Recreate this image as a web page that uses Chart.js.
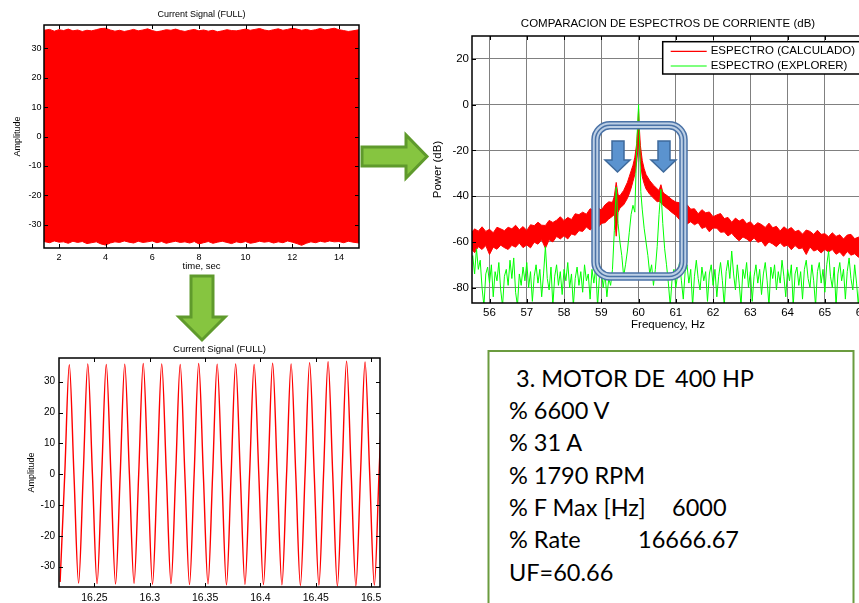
<!DOCTYPE html>
<html>
<head>
<meta charset="utf-8">
<script src="https://cdn.jsdelivr.net/npm/chart.js@4.4.1/dist/chart.umd.min.js"></script>
<style>
  html, body { margin: 0; padding: 0; background: #fff; }
  body { width: 859px; height: 603px; overflow: hidden; position: relative; }
  canvas { position: absolute; }
  #sig { left: 0; top: 0; }
  #zoom { left: 0; top: 340px; }
  #spec { left: 430px; top: 10px; }
  #overlay { position: absolute; left: 0; top: 0; pointer-events: none; }
  #overlay text { font-family: Lato, "Open Sans", sans-serif; font-size: 23.5px; fill: #000; }
</style>
</head>
<body>
<canvas id="sig" width="370" height="280"></canvas>
<canvas id="zoom" width="390" height="263"></canvas>
<canvas id="spec" width="480" height="330"></canvas>

<svg id="overlay" width="859" height="603">
  <!-- green arrows -->
  <polygon points="362,147 406,147 406,135 427,156.5 406,178 406,166 362,166"
           fill="#86c540" stroke="#5f9a2c" stroke-width="3" stroke-linejoin="miter"/>
  <polygon points="191,276 213,276 213,317 225,317 202,340 179,317 191,317"
           fill="#86c540" stroke="#5f9a2c" stroke-width="3" stroke-linejoin="miter"/>

  <!-- triple rounded frame around the side bands -->
  <rect x="595.5" y="125.2" width="88" height="151.3" rx="14.5" fill="none" stroke="#bccfe5" stroke-width="7"/>
  <rect x="592" y="121.7" width="95" height="158.3" rx="18" fill="none" stroke="#4a72a6" stroke-width="1.5"/>
  <rect x="595.5" y="125.2" width="88" height="151.3" rx="14.5" fill="none" stroke="#4a72a6" stroke-width="1.5"/>
  <rect x="599" y="128.7" width="81" height="144.3" rx="11" fill="none" stroke="#4a72a6" stroke-width="1.5"/>

  <!-- blue arrows -->
  <polygon points="612,141 624,141 624,160 630,160 617.5,172 605,160 612,160"
           fill="#5b93cf" stroke="#3e6a9c" stroke-width="1.5"/>
  <polygon points="658,141 670,141 670,160 676,160 663.5,172 651,160 658,160"
           fill="#5b93cf" stroke="#3e6a9c" stroke-width="1.5"/>

  <!-- motor data box -->
  <rect x="488.5" y="351" width="365" height="270" fill="#fff" stroke="#6b9b3f" stroke-width="2"/>
  <text x="516" y="386.7">3. MOTOR DE</text>
  <text x="675" y="386.7">400 HP</text>
  <text x="509" y="419">% 6600 V</text>
  <text x="509" y="451.3">% 31 A</text>
  <text x="509" y="483.6">% 1790 RPM</text>
  <text x="509" y="515.9">% F Max [Hz]</text>
  <text x="672" y="515.9">6000</text>
  <text x="509" y="548.2">% Rate</text>
  <text x="638" y="548.2">16666.67</text>
  <text x="509" y="580.5">UF=60.66</text>
</svg>

<script>
// full record, envelope of the dense signal
const sigTime = [
  1.36, 1.6, 1.8, 2.0, 2.2, 2.4, 2.6, 2.8, 3.0, 3.2,
  3.4, 3.6, 3.8, 4.0, 4.2, 4.4, 4.6, 4.8, 5.0, 5.2,
  5.4, 5.6, 5.8, 6.0, 6.2, 6.4, 6.6, 6.8, 7.0, 7.2,
  7.4, 7.6, 7.8, 8.0, 8.2, 8.4, 8.6, 8.8, 9.0, 9.2,
  9.4, 9.6, 9.8, 10.0, 10.2, 10.4, 10.6, 10.8, 11.0, 11.2,
  11.4, 11.6, 11.8, 12.0, 12.2, 12.4, 12.6, 12.8, 13.0, 13.2,
  13.4, 13.6, 13.8, 14.0, 14.2, 14.4, 14.6, 14.86
];
const sigUpper = [
  36.2, 36.5, 35.9, 36.4, 36.1, 36.6, 36.0, 36.3, 35.8, 36.2,
  36.0, 36.4, 36.8, 36.9, 36.3, 35.9, 36.2, 35.8, 36.1, 36.5,
  36.0, 36.3, 36.7, 36.1, 35.7, 36.0, 36.4, 36.2, 36.6, 36.1,
  35.8, 36.2, 36.5, 36.0, 36.3, 35.9, 36.2, 35.7, 36.0, 36.4,
  36.1, 36.0, 36.3, 36.6, 36.2, 36.5, 36.8, 36.3, 36.0, 36.4,
  36.7, 36.2, 36.5, 36.9, 36.6, 36.2, 36.5, 36.1, 36.4, 36.8,
  36.3, 36.6, 36.9, 36.4, 36.1, 35.8, 36.0, 36.4
];
const sigLower = [
  -35.8, -36.2, -35.6, -36.0, -35.9, -36.4, -35.7, -36.1, -35.8, -36.5,
  -36.2, -35.9, -36.6, -37.0, -36.3, -35.9, -36.1, -35.6, -36.0, -36.3,
  -35.7, -36.1, -35.9, -35.6, -36.2, -35.8, -36.4, -36.0, -35.7, -36.1,
  -35.9, -36.3, -35.8, -36.6, -36.2, -35.8, -36.4, -36.0, -35.7, -36.1,
  -36.5, -35.9, -36.2, -35.8, -36.4, -36.1, -35.7, -36.0, -35.8, -36.3,
  -35.9, -36.2, -35.6, -36.0, -36.5, -37.1, -36.4, -35.9, -36.2, -35.7,
  -36.0, -35.6, -35.9, -35.8, -36.2, -35.7, -36.0, -36.3
];

// zoomed window: troughs, zero crossings and peaks
const zoomTime = [
  16.2190, 16.2232, 16.2273, 16.2315, 16.2357, 16.2399, 16.2440, 16.2482, 16.2524, 16.2566,
  16.2607, 16.2649, 16.2691, 16.2733, 16.2774, 16.2816, 16.2858, 16.2900, 16.2941, 16.2983,
  16.3025, 16.3067, 16.3108, 16.3150, 16.3192, 16.3234, 16.3275, 16.3317, 16.3359, 16.3401,
  16.3442, 16.3484, 16.3526, 16.3568, 16.3609, 16.3651, 16.3693, 16.3735, 16.3776, 16.3818,
  16.3860, 16.3902, 16.3943, 16.3985, 16.4027, 16.4069, 16.4110, 16.4152, 16.4194, 16.4236,
  16.4277, 16.4319, 16.4361, 16.4403, 16.4444, 16.4486, 16.4528, 16.4570, 16.4611, 16.4653,
  16.4695, 16.4737, 16.4778, 16.4820, 16.4862, 16.4904, 16.4945, 16.4987, 16.5029, 16.5071,
  16.5112
];
const zoomAmp = [
  -35.0, 0, 35.5, 0, -35.3, 0, 35.8, 0, -35.5, 0,
  35.6, 0, -35.6, 0, 35.7, 0, -35.4, 0, 35.9, 0,
  -35.7, 0, 35.8, 0, -35.5, 0, 35.6, 0, -35.8, 0,
  35.9, 0, -35.6, 0, 35.7, 0, -35.9, 0, 35.8, 0,
  -35.7, 0, 35.6, 0, -35.8, 0, 36.0, 0, -35.9, 0,
  35.8, 0, -36.1, 0, 36.2, 0, -36.0, 0, 36.5, 0,
  -36.3, 0, 36.7, 0, -36.2, 0, 36.4, 0, -36.0, 0,
  36.3
];

// calculated spectrum, drawn as a band (top / bottom of the noisy trace)
const redFreq = [
  55.5, 55.6, 55.7, 55.8, 55.9, 56.0, 56.1, 56.2, 56.3, 56.4,
  56.5, 56.6, 56.7, 56.8, 56.9, 57.0, 57.1, 57.2, 57.3, 57.4,
  57.5, 57.6, 57.7, 57.8, 57.9, 58.0, 58.1, 58.2, 58.3, 58.4,
  58.5, 58.6, 58.7, 58.8, 58.9, 59.0, 59.1, 59.2, 59.3, 59.35,
  59.4, 59.45, 59.5, 59.6, 59.7, 59.75, 59.8, 59.85, 59.9, 59.95,
  59.98, 60.0, 60.02, 60.05, 60.1, 60.15, 60.2, 60.3, 60.4, 60.5,
  60.55, 60.6, 60.65, 60.7, 60.8, 60.9, 61.0, 61.1, 61.2, 61.3,
  61.4, 61.5, 61.6, 61.7, 61.8, 61.9, 62.0, 62.1, 62.2, 62.3,
  62.4, 62.5, 62.6, 62.7, 62.8, 62.9, 63.0, 63.1, 63.2, 63.3,
  63.4, 63.5, 63.6, 63.7, 63.8, 63.9, 64.0, 64.1, 64.2, 64.3,
  64.4, 64.5, 64.6, 64.7, 64.8, 64.9, 65.0, 65.1, 65.2, 65.3,
  65.4, 65.5, 65.6, 65.7, 65.8, 65.9, 66.0, 66.1
];
const redTop = [
  -56.4, -54.3, -55.3, -53.4, -55.4, -54.5, -56.0, -53.6, -54.3, -55.1,
  -53.6, -54.3, -52.7, -54.7, -53.3, -55.0, -52.5, -52.9, -51.4, -52.7,
  -52.8, -50.6, -51.5, -50.5, -49.0, -50.7, -49.3, -50.2, -47.7, -48.1,
  -47.0, -47.9, -45.5, -46.3, -44.9, -46.1, -43.8, -42.5, -42.7, -40,
  -34, -39.5, -39.8, -37.5, -34, -31.5, -29, -26.5, -23, -17,
  -10, -2, -10, -18, -24.5, -28, -30.5, -33.2, -35.2, -36.8,
  -37.5, -35, -38.2, -39, -40.2, -41.6, -42.6, -42.9, -45.0, -43.7,
  -45.7, -45.5, -47.7, -45.9, -47.3, -46.9, -49.0, -48.2, -47.6, -49.8,
  -49.3, -51.4, -49.6, -50.9, -50.0, -52.0, -51.2, -53.0, -51.6, -52.4,
  -53.7, -51.8, -53.8, -53.2, -55.2, -53.4, -54.7, -53.7, -55.5, -54.9,
  -56.6, -54.8, -55.4, -56.7, -54.9, -56.7, -56.4, -57.7, -56.0, -57.6,
  -56.9, -58.7, -57.0, -56.7, -58.6, -57.9, -59.1, -57.9
];
const redBottom = [
  -62.7, -64.7, -62.1, -63.3, -61.6, -65.5, -62.3, -63.2, -61.4, -62.5,
  -63.3, -61.5, -62.3, -60.5, -62.5, -61.3, -62.6, -60.1, -61.0, -59.1,
  -62.8, -59.1, -60.0, -57.6, -58.7, -57.3, -58.7, -56.5, -57.1, -55.1,
  -55.4, -53.5, -54.8, -53.2, -54.1, -51.9, -51.6, -50.0, -48.8, -48,
  -57.5, -47, -45.2, -43.8, -41, -39, -36.5, -33.5, -30.5, -25,
  -20, -15, -20, -25, -31.5, -34.5, -36.8, -39.2, -40.8, -42.5,
  -42.2, -43, -43.8, -44.5, -45.8, -47.2, -48.4, -50.3, -49.4, -52.2,
  -51.2, -52.5, -51.6, -54.1, -53.4, -55.6, -53.9, -54.0, -55.8, -55.6,
  -57.4, -56.2, -58.1, -59.5, -57.8, -58.7, -59.9, -58.2, -60.2, -59.6,
  -61.9, -60.0, -60.9, -62.1, -60.4, -62.0, -61.4, -63.4, -61.6, -63.0,
  -62.6, -65.5, -62.2, -64.0, -63.3, -64.8, -63.3, -64.4, -63.3, -65.4,
  -64.4, -66.3, -64.2, -65.8, -65.2, -66.7, -65.1, -66.3
];

// explorer spectrum
const greenFreq = [
  55.50, 55.55, 55.60, 55.65, 55.70, 55.75, 55.80, 55.85, 55.90, 55.95,
  56.00, 56.05, 56.10, 56.15, 56.20, 56.25, 56.30, 56.35, 56.40, 56.45,
  56.50, 56.55, 56.60, 56.65, 56.70, 56.75, 56.80, 56.85, 56.90, 56.95,
  57.00, 57.05, 57.10, 57.15, 57.20, 57.25, 57.30, 57.35, 57.40, 57.45,
  57.50, 57.55, 57.60, 57.65, 57.70, 57.75, 57.80, 57.85, 57.90, 57.95,
  58.00, 58.05, 58.10, 58.15, 58.20, 58.25, 58.30, 58.35, 58.40, 58.45,
  58.50, 58.55, 58.60, 58.65, 58.70, 58.75, 58.80, 58.85, 58.90, 58.95,
  59.00, 59.05, 59.10, 59.15, 59.20, 59.25, 59.30, 59.35, 59.40, 59.45,
  59.50, 59.55, 59.60, 59.65, 59.70, 59.75, 59.80, 59.85, 59.90, 59.93,
  59.96, 60.00, 60.03, 60.06, 60.10, 60.15, 60.20, 60.25, 60.30, 60.35,
  60.40, 60.45, 60.50, 60.55, 60.60, 60.65, 60.70, 60.75, 60.80, 60.85,
  60.90, 60.95, 61.00, 61.05, 61.10, 61.15, 61.20, 61.25, 61.30, 61.35,
  61.40, 61.45, 61.50, 61.55, 61.60, 61.65, 61.70, 61.75, 61.80, 61.85,
  61.90, 61.95, 62.00, 62.05, 62.10, 62.15, 62.20, 62.25, 62.30, 62.35,
  62.40, 62.45, 62.50, 62.55, 62.60, 62.65, 62.70, 62.75, 62.80, 62.85,
  62.90, 62.95, 63.00, 63.05, 63.10, 63.15, 63.20, 63.25, 63.30, 63.35,
  63.40, 63.45, 63.50, 63.55, 63.60, 63.65, 63.70, 63.75, 63.80, 63.85,
  63.90, 63.95, 64.00, 64.05, 64.10, 64.15, 64.20, 64.25, 64.30, 64.35,
  64.40, 64.45, 64.50, 64.55, 64.60, 64.65, 64.70, 64.75, 64.80, 64.85,
  64.90, 64.95, 65.00, 65.05, 65.10, 65.15, 65.20, 65.25, 65.30, 65.35,
  65.40, 65.45, 65.50, 65.55, 65.60, 65.65, 65.70, 65.75, 65.80, 65.85,
  65.90, 65.95, 66.00, 66.05, 66.10
];
const greenDb = [
  -70, -66, -74, -63, -72, -68, -80, -88, -74, -71,
  -78, -70, -84, -73, -77, -69, -81, -88, -75, -72,
  -79, -68, -76, -67, -82, -88, -74, -79, -71, -77,
  -69, -80, -73, -86, -75, -70, -78, -72, -84, -74,
  -62, -76, -81, -71, -88, -75, -70, -79, -73, -83,
  -72, -77, -69, -80, -74, -88, -76, -71, -79, -73,
  -82, -70, -77, -74, -85, -72, -78, -71, -88, -75,
  -72, -80, -74, -84, -76, -79, -72, -55, -36, -52,
  -60, -66, -75, -70, -64, -56, -48, -44, -47, -30,
  -14, 0, -18, -38, -46, -54, -60, -66, -74, -70,
  -79, -72, -62, -48, -37, -52, -63, -70, -78, -88,
  -76, -72, -80, -74, -69, -77, -85, -73, -70, -78,
  -72, -88, -75, -68, -76, -81, -71, -77, -73, -86,
  -74, -70, -79, -72, -84, -75, -69, -77, -88, -73,
  -68, -76, -64, -74, -81, -70, -78, -88, -72, -76,
  -69, -80, -73, -86, -75, -70, -78, -72, -83, -74,
  -69, -77, -88, -71, -76, -70, -81, -73, -78, -68,
  -75, -84, -72, -77, -70, -88, -74, -71, -79, -73,
  -85, -72, -68, -76, -80, -70, -77, -88, -73, -69,
  -78, -72, -82, -70, -64, -75, -80, -71, -88, -74,
  -69, -77, -72, -85, -73, -67, -76, -81, -70, -78,
  -88, -74, -70, -77, -72
];

const FONT = '"Liberation Sans", Arial, Helvetica, sans-serif';
Chart.defaults.font.family = FONT;
Chart.defaults.color = '#000';
Chart.defaults.animation = false;

const toPoints = (xs, ys) => xs.map((x, i) => ({ x, y: ys[i] }));
const fmt = (v) => String(+v.toFixed(4));

// matlab-like box: frame, inward ticks on all four sides, title on top
const axesFrame = {
  id: 'axesFrame',
  afterDraw(chart, args, opts) {
    const { ctx, chartArea: a } = chart;
    const xs = chart.scales.x;
    const ys = chart.scales.y;
    const len = opts.tickLen;
    ctx.save();
    ctx.strokeStyle = '#000';
    ctx.lineWidth = 1;
    ctx.beginPath();
    xs.ticks.forEach((t) => {
      const px = Math.round(xs.getPixelForValue(t.value)) + 0.5;
      ctx.moveTo(px, a.bottom); ctx.lineTo(px, a.bottom - len);
      ctx.moveTo(px, a.top); ctx.lineTo(px, a.top + len);
    });
    ys.ticks.forEach((t) => {
      const py = Math.round(ys.getPixelForValue(t.value)) + 0.5;
      ctx.moveTo(a.left, py); ctx.lineTo(a.left + len, py);
      ctx.moveTo(a.right, py); ctx.lineTo(a.right - len, py);
    });
    ctx.stroke();
    ctx.lineWidth = opts.frameWidth;
    ctx.strokeRect(a.left, a.top, a.right - a.left, a.bottom - a.top);
    ctx.fillStyle = '#000';
    ctx.font = opts.titleSize + 'px ' + FONT;
    ctx.textAlign = 'center';
    ctx.textBaseline = 'middle';
    ctx.fillText(opts.title, (a.left + a.right) / 2, opts.titleY);
    ctx.restore();
  }
};

// legend box in the upper right corner of the spectrum
const specLegend = {
  id: 'specLegend',
  afterDraw(chart, args, opts) {
    const ctx = chart.ctx;
    const items = chart.data.datasets.filter((d) => d.label);
    ctx.save();
    ctx.fillStyle = '#fff';
    ctx.fillRect(opts.x, opts.y, opts.w, opts.h);
    ctx.strokeStyle = '#000';
    ctx.lineWidth = 1.5;
    ctx.strokeRect(opts.x, opts.y, opts.w, opts.h);
    ctx.font = opts.size + 'px ' + FONT;
    ctx.textBaseline = 'middle';
    items.forEach((d, i) => {
      const cy = opts.y + opts.row0 + i * opts.rowGap;
      ctx.strokeStyle = d.borderColor;
      ctx.lineWidth = 1.2;
      ctx.beginPath();
      ctx.moveTo(opts.x + 8, cy);
      ctx.lineTo(opts.x + 44, cy);
      ctx.stroke();
      ctx.fillStyle = '#000';
      ctx.fillText(d.label, opts.x + 48, cy);
    });
    ctx.restore();
  }
};

const noGrid = { display: false, drawTicks: false };

// 1) full record
new Chart(document.getElementById('sig'), {
  type: 'line',
  data: {
    datasets: [
      { data: toPoints(sigTime, sigUpper), borderColor: '#ff0000', backgroundColor: '#ff0000',
        borderWidth: 1, pointRadius: 0, fill: 1 },
      { data: toPoints(sigTime, sigLower), borderColor: '#ff0000',
        borderWidth: 1, pointRadius: 0, fill: false }
    ]
  },
  options: {
    responsive: false,
    layout: { padding: { top: 25, right: 11, left: 0, bottom: 0 } },
    plugins: {
      legend: { display: false },
      tooltip: { enabled: false },
      axesFrame: { title: 'Current Signal (FULL)', titleY: 15, titleSize: 9, tickLen: 4, frameWidth: 1.5 }
    },
    scales: {
      x: {
        type: 'linear', min: 1.36, max: 14.86,
        afterFit: (s) => { s.height = 32; },
        grid: noGrid, border: { display: false },
        ticks: { stepSize: 2, includeBounds: false, padding: 4.6, font: { size: 9 }, maxRotation: 0, callback: fmt },
        title: { display: true, text: 'time, sec', font: { size: 9.5 }, padding: { top: 0, bottom: 7.5 } }
      },
      y: {
        min: -38, max: 38,
        afterFit: (s) => { s.width = 44; },
        grid: noGrid, border: { display: false },
        ticks: { stepSize: 10, includeBounds: false, padding: 2.5, font: { size: 9 }, callback: fmt },
        title: { display: true, text: 'Amplitude', font: { size: 9 }, padding: { top: 12.5, bottom: 0 } }
      }
    }
  },
  plugins: [axesFrame]
});

// 2) zoom on a few cycles
new Chart(document.getElementById('zoom'), {
  type: 'line',
  data: {
    datasets: [
      { data: toPoints(zoomTime, zoomAmp), borderColor: '#ff0000', borderWidth: 1.4,
        pointRadius: 0, fill: false, cubicInterpolationMode: 'monotone' }
    ]
  },
  options: {
    responsive: false,
    layout: { padding: { top: 18, right: 10, left: 0, bottom: 0 } },
    plugins: {
      legend: { display: false },
      tooltip: { enabled: false },
      axesFrame: { title: 'Current Signal (FULL)', titleY: 9, titleSize: 9.5, tickLen: 4, frameWidth: 1.5 }
    },
    scales: {
      x: {
        type: 'linear', min: 16.218, max: 16.508,
        afterFit: (s) => { s.height = 16; },
        grid: noGrid, border: { display: false },
        ticks: { stepSize: 0.05, includeBounds: false, padding: 5, font: { size: 10.5 }, maxRotation: 0, autoSkip: false, callback: fmt }
      },
      y: {
        min: -36.6, max: 37.7,
        afterFit: (s) => { s.width = 59; },
        grid: noGrid, border: { display: false },
        ticks: { stepSize: 10, includeBounds: false, padding: 4, font: { size: 10 }, callback: fmt },
        title: { display: true, text: 'Amplitude', font: { size: 9 }, padding: { top: 26.5, bottom: 0 } }
      }
    }
  },
  plugins: [axesFrame]
});

// 3) spectrum comparison
new Chart(document.getElementById('spec'), {
  type: 'line',
  data: {
    datasets: [
      { label: 'ESPECTRO (CALCULADO)', data: toPoints(redFreq, redTop), borderColor: '#ff0000',
        backgroundColor: '#ff0000', borderWidth: 1, pointRadius: 0, fill: 1, order: 3 },
      { data: toPoints(redFreq, redBottom), borderColor: '#ff0000',
        borderWidth: 1, pointRadius: 0, fill: false, order: 3 },
      { label: 'ESPECTRO (EXPLORER)', data: toPoints(greenFreq, greenDb), borderColor: '#00ff00',
        borderWidth: 1, pointRadius: 0, fill: false, order: 1 }
    ]
  },
  options: {
    responsive: false,
    layout: { padding: { top: 26, right: 46, left: 0, bottom: 0 } },
    plugins: {
      legend: { display: false },
      tooltip: { enabled: false },
      axesFrame: { title: 'COMPARACION DE ESPECTROS DE CORRIENTE (dB)', titleY: 14, titleSize: 11.5, tickLen: 4, frameWidth: 1.5 },
      specLegend: { x: 232.7, y: 31.7, w: 199, h: 32.3, row0: 9.6, rowGap: 14.7, size: 11.5 }
    },
    scales: {
      x: {
        type: 'linear', min: 55.53, max: 66.05,
        afterFit: (s) => { s.height = 37; },
        grid: { color: '#808080', lineWidth: 1, drawTicks: false },
        border: { display: false },
        ticks: { stepSize: 1, includeBounds: false, padding: 2.8, font: { size: 11.5 }, maxRotation: 0, autoSkip: false, callback: fmt },
        title: { display: true, text: 'Frequency, Hz', font: { size: 11.5 }, padding: { top: 0, bottom: 8.4 } }
      },
      y: {
        min: -86.7, max: 30,
        afterFit: (s) => { s.width = 42; },
        grid: { color: '#808080', lineWidth: 1, drawTicks: false },
        border: { display: false },
        ticks: { stepSize: 20, includeBounds: false, padding: 3, font: { size: 11.5 }, callback: fmt },
        title: { display: true, text: 'Power (dB)', font: { size: 11.5 }, padding: { top: 1.4, bottom: 0 } }
      }
    }
  },
  plugins: [axesFrame, specLegend]
});
</script>
</body>
</html>
